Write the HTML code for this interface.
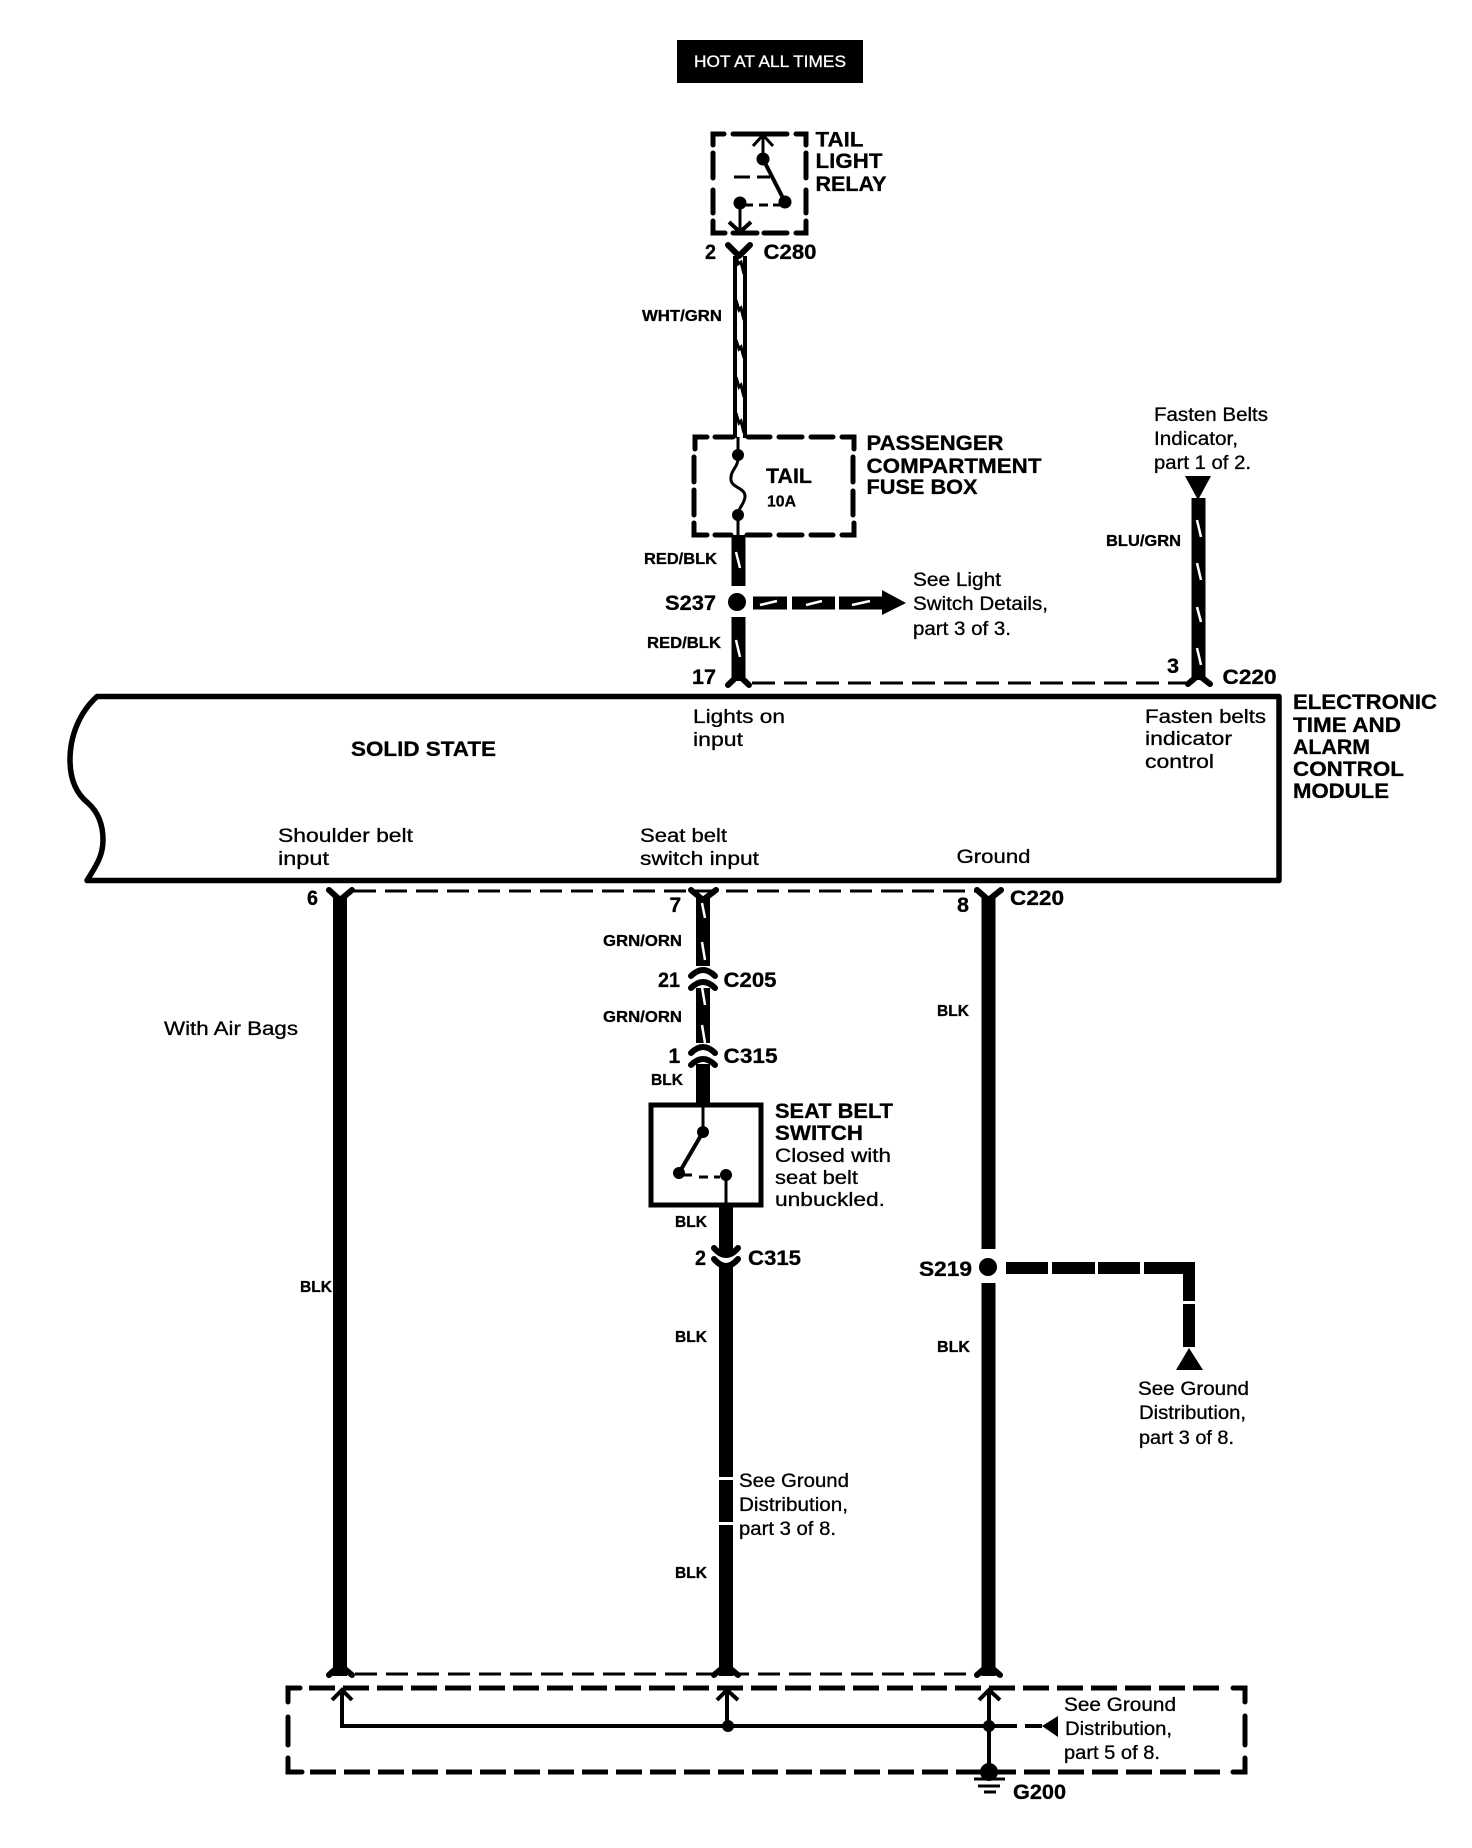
<!DOCTYPE html>
<html>
<head>
<meta charset="utf-8">
<style>
html,body{margin:0;padding:0;background:#fff;}
svg{display:block;}
text{font-family:"Liberation Sans",sans-serif;fill:#000;stroke:#000;stroke-width:.3px;}
.b{font-size:21px;font-weight:bold;}
.r{font-size:19px;}
.s{font-size:15.5px;font-weight:bold;}
.w{fill:none;stroke:#000;stroke-width:14;}
.d{fill:none;stroke:#000;stroke-width:5;stroke-linecap:round;stroke-linejoin:miter;}
.t{fill:none;stroke:#000;stroke-width:3;}
.y{fill:none;stroke:#000;stroke-width:6;stroke-linecap:round;stroke-linejoin:round;}
.m{fill:none;stroke:#fff;stroke-width:2.5;}
.z{fill:none;stroke:#000;stroke-width:3;}
</style>
</head>
<body>
<svg width="1472" height="1848" viewBox="0 0 1472 1848" xmlns="http://www.w3.org/2000/svg">
<rect width="1472" height="1848" fill="#fff"/>

<!-- HOT AT ALL TIMES -->
<rect x="677" y="40" width="186" height="43" fill="#000"/>
<text x="694" y="67" font-size="17" style="fill:#fff;stroke:#fff" textLength="152" lengthAdjust="spacingAndGlyphs">HOT AT ALL TIMES</text>

<!-- Tail light relay -->
<path class="d" d="M713,145V134H724M733,134H787M796,134H806V145M713,153V178M806,153V178M713,190V213M806,190V213M713,221V233H725M733,233H757M764,233H787M796,233H806V221"/>
<path class="t" d="M763,135V159M734,177H750M757,177H770"/>
<path d="M763,159L785,202" fill="none" stroke="#000" stroke-width="4"/>
<path class="z" d="M753,146L763,135L773,146" stroke-width="4"/>
<circle cx="763" cy="159" r="6.5"/>
<circle cx="785" cy="202" r="6.5"/>
<circle cx="740" cy="203" r="6.5"/>
<path class="t" d="M745,205H753M759,205H768M773,205H780"/>
<path class="t" d="M740,205V232"/>
<path d="M729,222L740,232L751,222" fill="none" stroke="#000" stroke-width="4"/>
<text class="b" x="815.5" y="146.5" textLength="48" lengthAdjust="spacingAndGlyphs">TAIL</text>
<text class="b" x="815.5" y="168" textLength="67" lengthAdjust="spacingAndGlyphs">LIGHT</text>
<text class="b" x="815.5" y="191" textLength="71" lengthAdjust="spacingAndGlyphs">RELAY</text>
<text class="b" x="705" y="259" textLength="11" lengthAdjust="spacingAndGlyphs">2</text>
<text class="b" x="763.5" y="259" textLength="53" lengthAdjust="spacingAndGlyphs">C280</text>
<path class="y" d="M728,245L739,256L750,245"/>

<!-- WHT/GRN wire -->
<path d="M735,256V438M745,256V438" fill="none" stroke="#000" stroke-width="4"/>
<path class="z" d="M736,254L738,264L741,262L744,274M736,300L739,310L741,308L744,320M736,340L739,349L741,347L744,358M736,377L739,387L741,385L744,397M736,413L739,423L741,421L744,433"/>
<text class="s" x="642" y="321" textLength="80" lengthAdjust="spacingAndGlyphs">WHT/GRN</text>

<!-- Fuse box -->
<path class="d" d="M695,449V437H707M715,437H733M748,437H770M779,437H802M811,437H833M842,437H854V449M694,457V482M853,457V482M694,490V515M853,491V515M694,523V535H707M715,535H731M747,535H770M779,535H802M811,535H833M842,535H854V523"/>
<path class="t" d="M738,437V455M738,515V535"/>
<path d="M738,458C738,468 730,470 731,480C732,488 746,488 745,497C744,505 738,508 738,515" fill="none" stroke="#000" stroke-width="3"/>
<circle cx="738" cy="455" r="6"/>
<circle cx="738" cy="515" r="6"/>
<text class="b" x="766" y="483" textLength="46" lengthAdjust="spacingAndGlyphs">TAIL</text>
<text x="767" y="506.5" font-size="16" font-weight="bold" textLength="29" lengthAdjust="spacingAndGlyphs">10A</text>
<text class="b" x="866.5" y="450" textLength="137" lengthAdjust="spacingAndGlyphs">PASSENGER</text>
<text class="b" x="866.5" y="473" textLength="175" lengthAdjust="spacingAndGlyphs">COMPARTMENT</text>
<text class="b" x="866.5" y="494" textLength="111" lengthAdjust="spacingAndGlyphs">FUSE BOX</text>

<!-- RED/BLK wires and S237 -->
<path class="w" stroke-width="13" d="M738.5,535V586"/>
<path class="m" d="M736,552L740,568"/>
<circle cx="737" cy="602" r="9"/>
<path class="w" d="M738.5,617V681"/>
<path class="m" d="M736,640L740,657"/>
<path class="y" d="M728,685L738.5,675L749,685"/>
<path d="M753,603H787M792,603H835M839,603H882" fill="none" stroke="#000" stroke-width="13"/>
<path d="M882,590L906,603L882,615Z"/>
<path class="m" d="M760,605L777,601M806,605L822,601M852,605L870,601"/>
<text class="s" x="644" y="564" textLength="73" lengthAdjust="spacingAndGlyphs">RED/BLK</text>
<text class="b" x="665" y="610" textLength="51" lengthAdjust="spacingAndGlyphs">S237</text>
<text class="r" x="913" y="586" textLength="88" lengthAdjust="spacingAndGlyphs">See Light</text>
<text class="r" x="913" y="610" textLength="135" lengthAdjust="spacingAndGlyphs">Switch Details,</text>
<text class="r" x="913" y="635" textLength="98" lengthAdjust="spacingAndGlyphs">part 3 of 3.</text>
<text class="s" x="647" y="648" textLength="74" lengthAdjust="spacingAndGlyphs">RED/BLK</text>
<text class="b" x="692" y="684" textLength="24" lengthAdjust="spacingAndGlyphs">17</text>

<!-- Upper dashed line -->
<path d="M752,683H1190" fill="none" stroke="#000" stroke-width="3" stroke-dasharray="23 9"/>

<!-- Fasten belts -->
<text class="r" x="1154" y="421" textLength="114" lengthAdjust="spacingAndGlyphs">Fasten Belts</text>
<text class="r" x="1154" y="445" textLength="84" lengthAdjust="spacingAndGlyphs">Indicator,</text>
<text class="r" x="1154" y="469" textLength="97" lengthAdjust="spacingAndGlyphs">part 1 of 2.</text>
<path d="M1185,476H1211L1198,500Z"/>
<path class="w" stroke-width="13" d="M1198.5,498V680"/>
<path class="m" d="M1197,520L1201,537M1197,563L1201,580M1197,607L1201,622M1197,648L1201,665"/>
<path class="y" d="M1188,684L1198.5,675L1210,684"/>
<text class="s" x="1106" y="546" textLength="75" lengthAdjust="spacingAndGlyphs">BLU/GRN</text>
<text class="b" x="1167" y="673" textLength="12" lengthAdjust="spacingAndGlyphs">3</text>
<text class="b" x="1222.5" y="684" textLength="54" lengthAdjust="spacingAndGlyphs">C220</text>

<!-- Module -->
<path d="M97,696.5H1279V880.5H87C96,866 103,856 103,840C103,825 98,812 88,803C78,795 70,782 70,760C70,735 80,712 97,696.5Z" fill="#fff" stroke="#000" stroke-width="5.5" stroke-linejoin="round"/>
<text class="b" x="351" y="756" textLength="145" lengthAdjust="spacingAndGlyphs">SOLID STATE</text>
<text class="r" x="693" y="723" textLength="92" lengthAdjust="spacingAndGlyphs">Lights on</text>
<text class="r" x="693" y="746" textLength="50" lengthAdjust="spacingAndGlyphs">input</text>
<text class="r" x="1145" y="723" textLength="121" lengthAdjust="spacingAndGlyphs">Fasten belts</text>
<text class="r" x="1145" y="745" textLength="87" lengthAdjust="spacingAndGlyphs">indicator</text>
<text class="r" x="1145" y="768" textLength="69" lengthAdjust="spacingAndGlyphs">control</text>
<text class="r" x="278" y="842" textLength="135" lengthAdjust="spacingAndGlyphs">Shoulder belt</text>
<text class="r" x="278" y="865" textLength="51" lengthAdjust="spacingAndGlyphs">input</text>
<text class="r" x="640" y="842" textLength="87" lengthAdjust="spacingAndGlyphs">Seat belt</text>
<text class="r" x="640" y="865" textLength="119" lengthAdjust="spacingAndGlyphs">switch input</text>
<text class="r" x="956.5" y="863" textLength="74" lengthAdjust="spacingAndGlyphs">Ground</text>
<text class="b" x="1293" y="709" textLength="144" lengthAdjust="spacingAndGlyphs">ELECTRONIC</text>
<text class="b" x="1293" y="732" textLength="108" lengthAdjust="spacingAndGlyphs">TIME AND</text>
<text class="b" x="1293" y="754" textLength="77" lengthAdjust="spacingAndGlyphs">ALARM</text>
<text class="b" x="1293" y="776" textLength="111" lengthAdjust="spacingAndGlyphs">CONTROL</text>
<text class="b" x="1293" y="798" textLength="96" lengthAdjust="spacingAndGlyphs">MODULE</text>

<!-- Lower dashed line -->
<path d="M354,891H978" fill="none" stroke="#000" stroke-width="3" stroke-dasharray="22 9"/>

<!-- Wire 6 -->
<path class="w" d="M340,897V1676"/>
<path class="y" d="M329,890L340,900L352,890"/>
<text class="b" x="307" y="905" textLength="11" lengthAdjust="spacingAndGlyphs">6</text>
<text class="r" x="164" y="1035" textLength="134" lengthAdjust="spacingAndGlyphs">With Air Bags</text>
<text class="s" x="300" y="1292" textLength="32" lengthAdjust="spacingAndGlyphs">BLK</text>

<!-- Wire 7 -->
<path class="w" stroke-width="13" d="M703,897V966M703,988V1043"/>
<path class="w" d="M703,1064V1104"/>
<path class="y" d="M691,890L703,900L716,890"/>
<path class="m" d="M702,903L705,918M702,942L705,960M702,987L705,1005M702,1025L705,1043"/>
<path class="y" d="M691,976Q703,964 715,976M691,988Q703,976 715,988M691,1053Q703,1041 715,1053M691,1065Q703,1053 715,1065"/>
<text class="b" x="669.5" y="912">7</text>
<text class="b" x="668.5" y="1063">1</text>
<text class="s" x="603" y="946" textLength="79" lengthAdjust="spacingAndGlyphs">GRN/ORN</text>
<text class="b" x="658" y="987" textLength="22" lengthAdjust="spacingAndGlyphs">21</text>
<text class="b" x="723.5" y="987" textLength="53" lengthAdjust="spacingAndGlyphs">C205</text>
<text class="s" x="603" y="1022" textLength="79" lengthAdjust="spacingAndGlyphs">GRN/ORN</text>
<text class="b" x="723.5" y="1063" textLength="54" lengthAdjust="spacingAndGlyphs">C315</text>
<text class="s" x="651" y="1085" textLength="32" lengthAdjust="spacingAndGlyphs">BLK</text>

<!-- Seat belt switch -->
<rect x="651" y="1105" width="110" height="100" fill="#fff" stroke="#000" stroke-width="5"/>
<path class="t" d="M703,1105V1132M726,1175V1207"/>
<path d="M703,1132L679,1173" fill="none" stroke="#000" stroke-width="4"/>
<circle cx="703" cy="1132" r="6"/>
<circle cx="679" cy="1173" r="6"/>
<circle cx="726" cy="1175" r="6"/>
<path class="t" d="M684,1175H692M699,1177H708M714,1177H720"/>
<text class="b" x="775" y="1118" textLength="118" lengthAdjust="spacingAndGlyphs">SEAT BELT</text>
<text class="b" x="775" y="1140" textLength="88" lengthAdjust="spacingAndGlyphs">SWITCH</text>
<text class="r" x="775" y="1162" textLength="116" lengthAdjust="spacingAndGlyphs">Closed with</text>
<text class="r" x="775" y="1184" textLength="83" lengthAdjust="spacingAndGlyphs">seat belt</text>
<text class="r" x="775" y="1206" textLength="110" lengthAdjust="spacingAndGlyphs">unbuckled.</text>

<!-- Wire below switch -->
<path class="w" d="M726,1207V1254M726,1264V1477M726,1480V1522M726,1525V1676"/>
<path class="y" d="M714,1248Q726,1262 738,1248M714,1259Q726,1273 738,1259"/>
<path d="M719,1251H733V1256H719Z"/>
<text class="s" x="675" y="1227" textLength="32" lengthAdjust="spacingAndGlyphs">BLK</text>
<text class="b" x="695" y="1265" textLength="11" lengthAdjust="spacingAndGlyphs">2</text>
<text class="b" x="748" y="1265" textLength="53" lengthAdjust="spacingAndGlyphs">C315</text>
<text class="s" x="675" y="1342" textLength="32" lengthAdjust="spacingAndGlyphs">BLK</text>
<text class="r" x="739" y="1487" textLength="110" lengthAdjust="spacingAndGlyphs">See Ground</text>
<text class="r" x="739" y="1511" textLength="109" lengthAdjust="spacingAndGlyphs">Distribution,</text>
<text class="r" x="739" y="1535" textLength="97" lengthAdjust="spacingAndGlyphs">part 3 of 8.</text>
<text class="s" x="675" y="1578" textLength="32" lengthAdjust="spacingAndGlyphs">BLK</text>

<!-- Wire 8 -->
<path class="w" d="M988.5,897V1249M988.5,1283V1676"/>
<path class="y" d="M977,890L988.5,900L1001,890"/>
<circle cx="988" cy="1267" r="9"/>
<path d="M1006,1268H1048M1052,1268H1095M1098,1268H1140M1144,1268H1195" fill="none" stroke="#000" stroke-width="12"/>
<path d="M1189,1262V1301M1189,1304V1347" fill="none" stroke="#000" stroke-width="12"/>
<path d="M1189,1348L1176,1370H1203Z"/>
<text class="b" x="957" y="912" textLength="12" lengthAdjust="spacingAndGlyphs">8</text>
<text class="b" x="1010" y="905" textLength="54" lengthAdjust="spacingAndGlyphs">C220</text>
<text class="s" x="937" y="1016" textLength="32" lengthAdjust="spacingAndGlyphs">BLK</text>
<text class="b" x="919" y="1276" textLength="53" lengthAdjust="spacingAndGlyphs">S219</text>
<text class="s" x="937" y="1352" textLength="33" lengthAdjust="spacingAndGlyphs">BLK</text>
<text class="r" x="1138" y="1395" textLength="111" lengthAdjust="spacingAndGlyphs">See Ground</text>
<text class="r" x="1139" y="1419" textLength="107" lengthAdjust="spacingAndGlyphs">Distribution,</text>
<text class="r" x="1139" y="1444" textLength="95" lengthAdjust="spacingAndGlyphs">part 3 of 8.</text>

<!-- Bottom connectors -->
<path d="M355,1674H975" fill="none" stroke="#000" stroke-width="3" stroke-dasharray="22 9"/>
<path class="y" d="M329,1675L340,1665L352,1675"/>
<path class="y" d="M714,1675L726,1665L738,1675"/>
<path class="y" d="M977,1675L988.5,1665L1000,1675"/>

<!-- Ground box -->
<path class="d" d="M288,1702V1688H300M288,1717V1745M288,1758V1772H302M1233,1688H1245V1702M1245,1716V1745M1245,1758V1772H1233"/>
<path d="M309,1688H1224" fill="none" stroke="#000" stroke-width="5" stroke-dasharray="26 8"/>
<path d="M310,1772H1224" fill="none" stroke="#000" stroke-width="5" stroke-dasharray="26 8"/>
<path d="M342,1690V1726H1017M1025,1726H1042M727,1690V1726M989,1690V1772" fill="none" stroke="#000" stroke-width="4"/>
<path d="M332,1700L342,1690L352,1700M717,1700L727,1690L738,1700M979,1700L989,1690L1000,1700" fill="none" stroke="#000" stroke-width="4"/>
<circle cx="728" cy="1726" r="6"/>
<circle cx="989" cy="1726" r="6"/>
<circle cx="989" cy="1772" r="9"/>
<path d="M1042,1726L1058,1716V1737Z"/>
<path d="M974,1779H1005M978,1786H1000M984,1792H996" fill="none" stroke="#000" stroke-width="3"/>
<text class="r" x="1064" y="1711" textLength="112" lengthAdjust="spacingAndGlyphs">See Ground</text>
<text class="r" x="1065" y="1735" textLength="107" lengthAdjust="spacingAndGlyphs">Distribution,</text>
<text class="r" x="1064" y="1759" textLength="96" lengthAdjust="spacingAndGlyphs">part 5 of 8.</text>
<text class="b" x="1013" y="1799" textLength="53" lengthAdjust="spacingAndGlyphs">G200</text>
</svg>
</body>
</html>
